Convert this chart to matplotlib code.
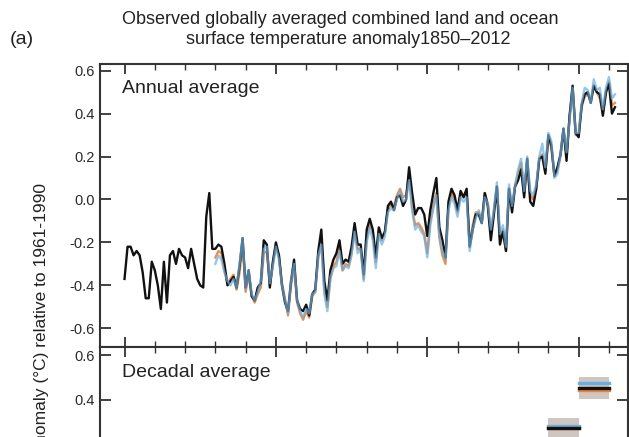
import numpy as np
import matplotlib
matplotlib.use('Agg')
import matplotlib.pyplot as plt
from matplotlib.ticker import MultipleLocator

plt.rcParams['font.family'] = ['Liberation Sans', 'DejaVu Sans']

# HadCRUT4 (czarna), 1850-2012
lata_h = list(range(1850, 2013))
hadcrut = [
    -0.37, -0.22, -0.22, -0.26, -0.24, -0.26, -0.34, -0.46, -0.46, -0.29,
    -0.33, -0.40, -0.51, -0.29, -0.48, -0.26, -0.24, -0.30, -0.23, -0.26,
    -0.27, -0.32, -0.23, -0.30, -0.37, -0.40, -0.41, -0.08, 0.03, -0.23,
    -0.23, -0.21, -0.22, -0.30, -0.40, -0.38, -0.36, -0.41, -0.31, -0.18,
    -0.41, -0.33, -0.45, -0.47, -0.41, -0.39, -0.19, -0.21, -0.41, -0.29,
    -0.20, -0.26, -0.40, -0.48, -0.52, -0.38, -0.28, -0.47, -0.51, -0.52,
    -0.49, -0.54, -0.44, -0.42, -0.24, -0.14, -0.38, -0.47, -0.33, -0.28,
    -0.25, -0.19, -0.30, -0.28, -0.29, -0.22, -0.11, -0.21, -0.21, -0.35,
    -0.14, -0.09, -0.14, -0.27, -0.13, -0.18, -0.15, -0.03, -0.01, -0.05,
    0.01, 0.02, -0.03, 0.00, 0.15, 0.03, -0.07, -0.04, -0.04, -0.07,
    -0.17, -0.05, 0.03, 0.10, -0.13, -0.19, -0.27, -0.01, 0.05, 0.02,
    -0.05, 0.04, 0.01, 0.05, -0.22, -0.14, -0.07, -0.07, -0.11, 0.03,
    -0.03, -0.19, -0.07, 0.06, -0.21, -0.15, -0.24, 0.05, -0.06, 0.06,
    0.09, 0.14, 0.01, 0.19, -0.01, -0.03, 0.05, 0.19, 0.20, 0.12,
    0.30, 0.25, 0.11, 0.15, 0.21, 0.33, 0.18, 0.39, 0.53, 0.31,
    0.29, 0.44, 0.49, 0.50, 0.45, 0.53, 0.50, 0.49, 0.39, 0.50,
    0.54, 0.40, 0.43,
]

# NOAA MLOST (pomaranczowa) i GISS (niebieska), 1880-2012
lata_n = list(range(1880, 2013))
noaa = [
    -0.27, -0.24, -0.25, -0.33, -0.39, -0.37, -0.35, -0.42, -0.34, -0.20,
    -0.43, -0.35, -0.45, -0.48, -0.44, -0.41, -0.25, -0.24, -0.40, -0.30,
    -0.22, -0.26, -0.39, -0.46, -0.54, -0.40, -0.31, -0.48, -0.53, -0.56,
    -0.52, -0.55, -0.45, -0.43, -0.27, -0.20, -0.42, -0.50, -0.37, -0.31,
    -0.29, -0.22, -0.33, -0.30, -0.31, -0.25, -0.15, -0.23, -0.23, -0.37,
    -0.18, -0.12, -0.15, -0.29, -0.15, -0.19, -0.15, -0.05, -0.02, -0.03,
    0.02, 0.05, 0.01, 0.02, 0.11, -0.04, -0.12, -0.11, -0.13, -0.16,
    -0.25, -0.10, -0.03, 0.03, -0.18, -0.26, -0.30, -0.04, 0.03, 0.00,
    -0.06, 0.02, 0.02, 0.04, -0.21, -0.12, -0.06, -0.06, -0.10, 0.03,
    -0.02, -0.16, -0.05, 0.06, -0.18, -0.14, -0.24, 0.05, -0.04, 0.07,
    0.12, 0.17, 0.03, 0.18, 0.02, 0.00, 0.06, 0.19, 0.21, 0.13,
    0.29, 0.24, 0.11, 0.14, 0.20, 0.32, 0.21, 0.38, 0.52, 0.30,
    0.30, 0.43, 0.48, 0.49, 0.46, 0.53, 0.50, 0.47, 0.40, 0.49,
    0.55, 0.44, 0.45,
]
giss = [
    -0.30, -0.26, -0.28, -0.34, -0.38, -0.40, -0.37, -0.41, -0.30, -0.18,
    -0.42, -0.33, -0.44, -0.47, -0.43, -0.38, -0.23, -0.22, -0.39, -0.31,
    -0.22, -0.28, -0.40, -0.47, -0.53, -0.38, -0.30, -0.47, -0.52, -0.55,
    -0.51, -0.53, -0.44, -0.43, -0.26, -0.21, -0.44, -0.52, -0.36, -0.32,
    -0.31, -0.24, -0.33, -0.31, -0.32, -0.26, -0.15, -0.25, -0.23, -0.38,
    -0.20, -0.13, -0.19, -0.32, -0.16, -0.21, -0.17, -0.06, -0.04, -0.05,
    0.00, 0.04, -0.01, 0.00, 0.09, -0.05, -0.14, -0.12, -0.15, -0.17,
    -0.27, -0.12, -0.04, 0.02, -0.17, -0.24, -0.28, -0.05, 0.01, -0.02,
    -0.08, 0.01, -0.01, 0.01, -0.24, -0.14, -0.09, -0.05, -0.11, 0.01,
    -0.02, -0.14, -0.05, 0.08, -0.16, -0.12, -0.22, 0.07, -0.03, 0.06,
    0.14, 0.19, 0.04, 0.20, 0.04, 0.02, 0.07, 0.20, 0.26, 0.15,
    0.31, 0.27, 0.10, 0.12, 0.21, 0.33, 0.22, 0.37, 0.52, 0.31,
    0.31, 0.45, 0.52, 0.51, 0.45, 0.56, 0.51, 0.52, 0.42, 0.52,
    0.57, 0.47, 0.49,
]

# Srednie dekadowe widoczne w kadrze
dekady = [1990, 2000]
dek_had = [0.273, 0.451]
dek_noaa = [0.270, 0.445]
dek_giss = [0.283, 0.474]
dek_gora = [0.317, 0.502]
dek_dol = [0.23, 0.403]

c_czarny = '#111111'
c_pom = '#e8843a'
c_nieb = '#6aaee0'
c_szary = '#cfc6c2'
c_osie = '#333333'

fig = plt.figure(figsize=(6.29, 4.37), dpi=100)
W, H = 629.0, 437.0

def ustaw_os(ax):
    for s in ax.spines.values():
        s.set_color(c_osie)
        s.set_linewidth(1.5)
    ax.set_xlim(1841.9, 2016.3)
    ax.xaxis.set_major_locator(MultipleLocator(50))
    ax.xaxis.set_minor_locator(MultipleLocator(10))
    ax.yaxis.set_major_locator(MultipleLocator(0.2))
    ax.tick_params(axis='y', which='both', direction='in', left=True, right=True,
                   length=8, width=1.3, color=c_osie, labelsize=10.5,
                   labelcolor='#2a2a2a', pad=4)
    ax.tick_params(axis='x', which='major', direction='in', length=7,
                   width=1.3, color=c_osie, labelbottom=False)
    ax.tick_params(axis='x', which='minor', direction='in', length=4,
                   width=1.0, color=c_osie)
    ax.yaxis.set_major_formatter(plt.FuncFormatter(lambda v, p: f'{v:.1f}'.replace('-0.0', '0.0')))

# Panel roczny
ax1 = fig.add_axes([100 / W, (H - 347) / H, 528 / W, 283 / H])
ustaw_os(ax1)
ax1.set_ylim(-0.687, 0.631)
ax1.tick_params(axis='x', which='both', top=True, bottom=True)
ax1.plot(lata_h, hadcrut, color=c_czarny, lw=1.7, zorder=3)
ax1.plot(lata_n, noaa, color=c_pom, lw=1.7, alpha=0.9, zorder=2)
ax1.plot(lata_n, giss, color=c_nieb, lw=1.7, alpha=0.7, zorder=4)
ax1.text(0.042, 0.915, 'Annual average', transform=ax1.transAxes,
         fontsize=14, color='#222222', va='center', ha='left')

# Panel dekadowy (obciety dolem)
ax2 = fig.add_axes([100 / W, (H - 643) / H, 528 / W, 296 / H])
ustaw_os(ax2)
ax2.set_ylim(-0.70, 0.638)
ax2.tick_params(axis='x', which='both', top=True, bottom=False)
for d, hg, hn, gg, g, dl in zip(dekady, dek_had, dek_noaa, dek_giss, dek_gora, dek_dol):
    ax2.fill_between([d, d + 10], dl, g, color=c_szary, lw=0)
    ax2.plot([d, d + 10], [gg, gg], color=c_nieb, lw=2.4)
    ax2.plot([d, d + 10], [hn, hn], color=c_pom, lw=2.4)
    ax2.plot([d, d + 10], [hg, hg], color=c_czarny, lw=2.4)
ax2.text(0.042, 0.915, 'Decadal average', transform=ax2.transAxes,
         fontsize=14, color='#222222', va='center', ha='left')

# Tytul i opisy
fig.text(340 / W, 1 - 19 / H, 'Observed globally averaged combined land and ocean',
         ha='center', va='center', fontsize=13, color='#222222')
fig.text(348 / W, 1 - 40 / H, 'surface temperature anomaly1850\u20132012',
         ha='center', va='center', fontsize=13, color='#222222')
fig.text(22 / W, 1 - 40 / H, '(a)', ha='center', va='center', fontsize=14,
         color='#222222')
fig.text(42 / W, 1 - 370 / H, 'Temperature anomaly (\u00b0C) relative to 1961-1990',
         rotation=90, ha='center', va='center', fontsize=12.5, color='#222222')

fig.savefig('out.png', dpi=100, facecolor='white')
